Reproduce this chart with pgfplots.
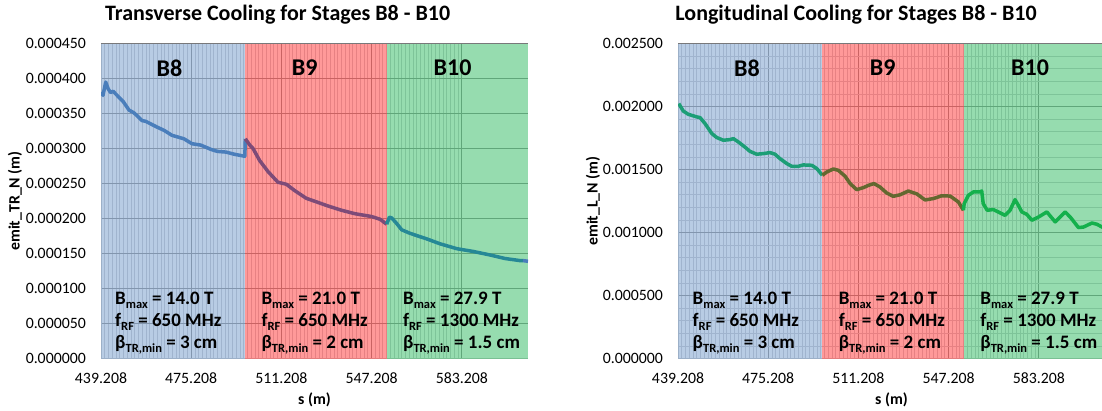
\documentclass[border=0pt]{standalone}
\usepackage{pgfplots}
\pgfplotsset{compat=1.18}
\usepackage{fontspec}
\setmainfont{Carlito}
\definecolor{fillB}{RGB}{137,170,210}
\definecolor{fillR}{RGB}{255,85,85}
\definecolor{fillG}{RGB}{80,197,122}
\definecolor{gmaj}{RGB}{120,120,122}
\definecolor{gmin}{RGB}{195,195,200}
\definecolor{lBa}{RGB}{74,126,187}
\definecolor{lBb}{RGB}{125,75,120}
\definecolor{lBc}{RGB}{38,136,150}
\definecolor{rBa}{RGB}{28,158,118}
\definecolor{rBb}{RGB}{100,104,48}
\definecolor{rBc}{RGB}{20,176,76}
\newcommand\sub[1]{\raisebox{-0.22em}{\fontsize{12.5}{12.5}\selectfont #1}}
\newcommand\ann{\fontsize{19}{22}\selectfont\bfseries}
\pgfplotsset{
  common/.style={
    scale only axis, width=427pt, height=315pt,
    xmin=439.208, xmax=609.6, ymin=0,
    scaled x ticks=false, scaled y ticks=false,
    axis x line*=bottom, axis y line*=left,
    axis line style={draw=gray!55, line width=1pt, -},
    xtick={439.208,475.208,511.208,547.208,583.208},
    xticklabels={439.208,475.208,511.208,547.208,583.208},
    minor x tick num=23,
    major tick length=0pt, minor tick length=0pt,
    xmajorgrids, xminorgrids, ymajorgrids,
    major grid style={draw=gmaj, line width=0.8pt},
    minor grid style={draw=gmin, line width=0.9pt},
    tick label style={font=\fontsize{15.8}{18}\selectfont},
    xticklabel style={anchor=center, yshift=-20pt},
    yticklabel style={anchor=east, inner sep=0pt, xshift=-15pt},
    every axis x label/.style={at={(axis description cs:0.5,-0.1314)}, anchor=center, font=\fontsize{15.8}{18}\selectfont\bfseries},
    xlabel={s (m)},
    every axis title/.style={anchor=center, font=\fontsize{22}{24}\selectfont\bfseries},
  },
  reg/.style={draw=none, fill opacity=0.6, line width=0pt, forget plot},
  ln/.style={line width=3.5pt, line join=round, no marks},
}
\begin{document}
\begin{tikzpicture}
\useasboundingbox (0,0) rectangle (1102pt,411pt);
% ---------------- left -----------------
\begin{axis}[common,
  at={(101pt,52.4pt)}, anchor=south west,
  ymax=0.00045,
  ytick={0,0.00005,0.0001,0.00015,0.0002,0.00025,0.0003,0.00035,0.0004,0.00045},
  yticklabels={0.000000,0.000050,0.000100,0.000150,0.000200,0.000250,0.000300,0.000350,0.000400,0.000450},
  every axis y label/.style={at={(axis description cs:-0.2014,0.5)}, anchor=center, rotate=90, font=\fontsize{15.8}{18}\selectfont\bfseries},
  ylabel={emit\_TR\_N (m)},
  title style={at={(axis description cs:0.4138,1.0908)}},
  title={Transverse Cooling for Stages B8 - B10},
]
\addplot[reg, fill=fillB] coordinates {(439.208,0.00045) (496.8,0.00045)} \closedcycle;
\addplot[reg, fill=fillR] coordinates {(496.8,0.00045) (553.5,0.00045)} \closedcycle;
\addplot[reg, fill=fillG] coordinates {(553.5,0.00045) (609.6,0.00045)} \closedcycle;
\addplot[ln, color=lBa] coordinates {(439.3,0.000381) (440.0,0.000376) (441.1,0.000395) (442.0,0.000386) (443.0,0.000380) (444.0,0.000382) (448.1,0.000367) (450.4,0.000355) (452.4,0.000351) (455.6,0.000340) (457.0,0.000339) (461.4,0.000331) (464.4,0.000326) (467.5,0.000319) (472.3,0.000314) (475.5,0.000307) (479.0,0.000305) (483.0,0.000299) (485.6,0.000296) (489.1,0.000295) (492.3,0.000292) (496.6,0.000289) (496.8,0.000314)};
\addplot[ln, color=lBb] coordinates {(496.8,0.000314) (498.6,0.000305) (499.9,0.000300) (502.5,0.000283) (505.9,0.000267) (509.8,0.000252) (513.2,0.000249) (516.5,0.000240) (521.1,0.000229) (525.1,0.000224) (529.8,0.000218) (535.1,0.000212) (540.5,0.000207) (547.1,0.000203) (550.6,0.000199) (553.2,0.000192)};
\addplot[ln, color=lBc] coordinates {(553.2,0.000192) (554.3,0.000202) (555.2,0.000201) (557.2,0.000193) (559.2,0.000184) (562.5,0.000179) (565.8,0.000175) (569.2,0.000171) (574.5,0.000164) (581.2,0.000157) (587.8,0.000153) (594.5,0.000148) (600.4,0.000143) (606.4,0.000140) (607.6,0.000140)};
\addplot[ln, color=lBa] coordinates {(607.6,0.000140) (609.6,0.000139)};
\node[font=\fontsize{24}{26}\selectfont\bfseries] at (axis cs:466.5,0.000415) {B8};
\node[font=\fontsize{24}{26}\selectfont\bfseries] at (axis cs:520.5,0.000415) {B9};
\node[font=\fontsize{24}{26}\selectfont\bfseries] at (axis cs:579.5,0.000415) {B10};
\node[anchor=base west, font=\ann, inner sep=0pt] at (axis cs:444.8,0.0000772) {B\sub{max} = 14.0 T};
\node[anchor=base west, font=\ann, inner sep=0pt] at (axis cs:444.8,0.0000458) {f\sub{RF} = 650 MHz};
\node[anchor=base west, font=\ann, inner sep=0pt] at (axis cs:444.8,0.0000143) {β\sub{TR,min} = 3 cm};
\node[anchor=base west, font=\ann, inner sep=0pt] at (axis cs:503.2,0.0000772) {B\sub{max} = 21.0 T};
\node[anchor=base west, font=\ann, inner sep=0pt] at (axis cs:503.2,0.0000458) {f\sub{RF} = 650 MHz};
\node[anchor=base west, font=\ann, inner sep=0pt] at (axis cs:503.2,0.0000143) {β\sub{TR,min} = 2 cm};
\node[anchor=base west, font=\ann, inner sep=0pt] at (axis cs:559.7,0.0000772) {B\sub{max} = 27.9 T};
\node[anchor=base west, font=\ann, inner sep=0pt] at (axis cs:559.7,0.0000458) {f\sub{RF} = 1300 MHz};
\node[anchor=base west, font=\ann, inner sep=0pt] at (axis cs:559.7,0.0000143) {β\sub{TR,min} = 1.5 cm};
\end{axis}
% ---------------- right -----------------
\begin{axis}[common,
  at={(678pt,52.4pt)}, anchor=south west,
  ymax=0.0025,
  ytick={0,0.0005,0.001,0.0015,0.002,0.0025},
  yticklabels={0.000000,0.000500,0.001000,0.001500,0.002000,0.002500},
  minor y tick num=4, yminorgrids,
  every axis y label/.style={at={(axis description cs:-0.199,0.5)}, anchor=center, rotate=90, font=\fontsize{15.8}{18}\selectfont\bfseries},
  ylabel={emit\_L\_N (m)},
  title style={at={(axis description cs:0.4169,1.0908)}},
  title={Longitudinal Cooling for Stages B8 - B10},
]
\addplot[reg, fill=fillB] coordinates {(439.208,0.0025) (496.8,0.0025)} \closedcycle;
\addplot[reg, fill=fillR] coordinates {(496.8,0.0025) (553.5,0.0025)} \closedcycle;
\addplot[reg, fill=fillG] coordinates {(553.5,0.0025) (609.6,0.0025)} \closedcycle;
\addplot[ln, color=rBa] coordinates {(439.5,0.002024) (441.3,0.001965) (443.3,0.001939) (446.7,0.001918) (448.0,0.001913) (450.0,0.001865) (452.7,0.001786) (454.7,0.001754) (457.3,0.001733) (460.0,0.001738) (461.3,0.001746) (463.3,0.001719) (465.9,0.001679) (467.9,0.001645) (470.6,0.001622) (473.3,0.001627) (475.9,0.001635) (477.9,0.001622) (479.9,0.001587) (482.6,0.001548) (484.6,0.001526) (487.2,0.001526) (489.2,0.001537) (492.6,0.001534) (494.6,0.001508) (496.8,0.001455)};
\addplot[ln, color=rBb] coordinates {(496.8,0.001455) (498.6,0.001481) (501.2,0.001505) (503.2,0.001494) (505.9,0.001447) (507.9,0.001389) (510.5,0.001341) (513.2,0.001357) (515.2,0.001375) (517.4,0.001389) (519.8,0.001362) (522.5,0.001314) (525.1,0.001288) (527.8,0.001300) (531.1,0.001330) (534.5,0.001307) (537.8,0.001259) (541.1,0.001270) (544.4,0.001292) (547.8,0.001290) (551.1,0.001243) (553.1,0.001177)};
\addplot[ln, color=rBc] coordinates {(553.1,0.001177) (553.4,0.00123) (555.1,0.001296) (557.1,0.001323) (559.7,0.001323) (560.4,0.00133) (561.0,0.00123) (562.6,0.001177) (565.0,0.001183) (567.0,0.001164) (569.7,0.001137) (571.7,0.001177) (573.7,0.001262) (575.0,0.001217) (576.4,0.001164) (578.4,0.001145) (580.4,0.001098) (583.1,0.001124) (586.4,0.001164) (589.7,0.001085) (593.7,0.001164) (595.7,0.001124) (599.0,0.00104) (601.0,0.001044) (604.4,0.001076) (606.4,0.001066) (608.4,0.001044) (609.6,0.00104)};
\node[font=\fontsize{24}{26}\selectfont\bfseries] at (axis cs:466.7,0.002306) {B8};
\node[font=\fontsize{24}{26}\selectfont\bfseries] at (axis cs:520.9,0.002306) {B9};
\node[font=\fontsize{24}{26}\selectfont\bfseries] at (axis cs:579.7,0.002306) {B10};
\node[anchor=base west, font=\ann, inner sep=0pt] at (axis cs:445.0,0.000429) {B\sub{max} = 14.0 T};
\node[anchor=base west, font=\ann, inner sep=0pt] at (axis cs:445.0,0.0002545) {f\sub{RF} = 650 MHz};
\node[anchor=base west, font=\ann, inner sep=0pt] at (axis cs:445.0,0.0000793) {β\sub{TR,min} = 3 cm};
\node[anchor=base west, font=\ann, inner sep=0pt] at (axis cs:503.3,0.000429) {B\sub{max} = 21.0 T};
\node[anchor=base west, font=\ann, inner sep=0pt] at (axis cs:503.3,0.0002545) {f\sub{RF} = 650 MHz};
\node[anchor=base west, font=\ann, inner sep=0pt] at (axis cs:503.3,0.0000793) {β\sub{TR,min} = 2 cm};
\node[anchor=base west, font=\ann, inner sep=0pt] at (axis cs:559.8,0.000429) {B\sub{max} = 27.9 T};
\node[anchor=base west, font=\ann, inner sep=0pt] at (axis cs:559.8,0.0002545) {f\sub{RF} = 1300 MHz};
\node[anchor=base west, font=\ann, inner sep=0pt] at (axis cs:559.8,0.0000793) {β\sub{TR,min} = 1.5 cm};
\end{axis}
\end{tikzpicture}
\end{document}
